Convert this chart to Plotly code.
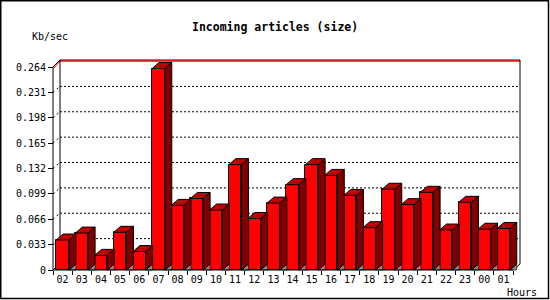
import plotly.graph_objects as go

# ---- data ----
hours = ["02", "03", "04", "05", "06", "07", "08", "09", "10", "11", "12", "13",
         "14", "15", "16", "17", "18", "19", "20", "21", "22", "23", "00", "01"]
kbps = [0.039, 0.048, 0.019, 0.049, 0.024, 0.262, 0.084, 0.093, 0.078, 0.137, 0.067, 0.087,
        0.111, 0.137, 0.123, 0.097, 0.055, 0.105, 0.085, 0.101, 0.052, 0.088, 0.053, 0.054]
ytick_vals = [0, 0.033, 0.066, 0.099, 0.132, 0.165, 0.198, 0.231, 0.264]
ytick_text = ["0", "0.033", "0.066", "0.099", "0.132", "0.165", "0.198", "0.231", "0.264"]
title_text = "Incoming articles (size)"
ylabel_text = "Kb/sec"
xlabel_text = "Hours"

# ---- geometry (pixel-based conversions) ----
W, H = 550, 300
L, R, T, B = 50, 27, 58, 27
PW, PH = W - L - R, H - T - B
SX = 1 / 19.1667          # x units per pixel
SY = 0.264 / 203          # y units per pixel
xr = [-0.5 - 3 * SX, -0.5 + (PW - 3) * SX]
yr = [-3 * SY, (PH - 3) * SY]
DX, DY = 7 * SX, 6 * SY   # 3D depth
HW = 6.35 * SX            # half bar width
YMAX = ytick_vals[-1]
n = len(hours)
idx = list(range(n))

def px_x(px):
    return (px - L) / PW

def px_y(py):
    return (H - B - py) / PH

fig = go.Figure()

# gray floor shadows, side faces, top faces
shx, shy, sdx, sdy, tpx, tpy = [], [], [], [], [], []
for i, v in zip(idx, kbps):
    a, b = i - HW, i + HW
    shx += [b, b + DX, b + DX, b, None]
    shy += [0, DY, 0, 0, None]
    sdx += [b, b + DX, b + DX, b, b, None]
    sdy += [0, DY, v + DY, v, 0, None]
    tpx += [a, a + DX, b + DX, b, a, None]
    tpy += [v, v + DY, v + DY, v, v, None]

fig.add_trace(go.Bar(x=idx, y=kbps, width=2 * HW, marker=dict(color="#FF0000", line=dict(color="black", width=1)),
                     hoverinfo="skip", showlegend=False))
fig.add_trace(go.Scatter(x=shx, y=shy, mode="lines", fill="toself", fillcolor="#8C8C8C",
                         line=dict(color="black", width=0.6), hoverinfo="skip", showlegend=False))
fig.add_trace(go.Scatter(x=sdx, y=sdy, mode="lines", fill="toself", fillcolor="#800000",
                         line=dict(color="black", width=1), hoverinfo="skip", showlegend=False))
fig.add_trace(go.Scatter(x=tpx, y=tpy, mode="lines", fill="toself", fillcolor="#C00000",
                         line=dict(color="black", width=1), hoverinfo="skip", showlegend=False))

shapes = []
bl, brt = -0.5 + DX, n - 0.5 + DX
# back wall gridlines (dotted)
for v in ytick_vals[1:-1]:
    shapes.append(dict(type="line", xref="x", yref="y", x0=bl, x1=brt, y0=v + DY, y1=v + DY,
                       line=dict(color="black", width=1, dash="2px,2px"), layer="below"))
    shapes.append(dict(type="line", xref="x", yref="y", x0=-0.5, x1=bl, y0=v, y1=v + DY,
                       line=dict(color="black", width=1, dash="2px,3px"), layer="below"))
# back wall top (black + red)
shapes.append(dict(type="line", xref="x", yref="y", x0=bl, x1=brt, y0=YMAX + DY + SY, y1=YMAX + DY + SY,
                   line=dict(color="black", width=1), layer="below"))
shapes.append(dict(type="line", xref="x", yref="y", x0=bl, x1=brt, y0=YMAX + DY, y1=YMAX + DY,
                   line=dict(color="#FF0000", width=1.5), layer="below"))
shapes.append(dict(type="line", xref="x", yref="y", x0=-0.5, x1=bl, y0=YMAX, y1=YMAX + DY + SY,
                   line=dict(color="black", width=1), layer="below"))
shapes.append(dict(type="line", xref="x", yref="y", x0=-0.5 + SX, x1=bl, y0=YMAX - SY, y1=YMAX + DY,
                   line=dict(color="#FF0000", width=1), layer="below"))
# back wall verticals
shapes.append(dict(type="line", xref="x", yref="y", x0=bl, x1=bl, y0=DY, y1=YMAX + DY + SY,
                   line=dict(color="black", width=1), layer="below"))
shapes.append(dict(type="line", xref="x", yref="y", x0=brt, x1=brt, y0=DY, y1=YMAX + DY + SY,
                   line=dict(color="black", width=1), layer="below"))
# floor diagonals
shapes.append(dict(type="line", xref="x", yref="y", x0=-0.5, x1=bl, y0=0, y1=DY,
                   line=dict(color="black", width=1), layer="below"))
shapes.append(dict(type="line", xref="x", yref="y", x0=n - 0.5, x1=brt, y0=0, y1=DY,
                   line=dict(color="black", width=1), layer="below"))
# front axes
shapes.append(dict(type="line", xref="x", yref="y", x0=-0.5, x1=-0.5, y0=0, y1=YMAX,
                   line=dict(color="black", width=1), layer="above"))
shapes.append(dict(type="line", xref="x", yref="y", x0=-0.5, x1=n - 0.5, y0=0, y1=0,
                   line=dict(color="black", width=1), layer="above"))
# outer frame
shapes.append(dict(type="rect", xref="paper", yref="paper",
                   x0=px_x(0.75), x1=px_x(548.5), y0=px_y(298.5), y1=px_y(0.75),
                   line=dict(color="black", width=1.5), fillcolor="rgba(0,0,0,0)"))

mono = "DejaVu Sans Mono, Liberation Mono, monospace"
annotations = [
    dict(text="<b>" + title_text + "</b>", xref="paper", yref="paper", x=px_x(275), y=px_y(27),
         xanchor="center", yanchor="middle", showarrow=False, font=dict(family=mono, size=11.5, color="black")),
    dict(text=ylabel_text, xref="paper", yref="paper", x=px_x(30), y=px_y(37),
         xanchor="left", yanchor="middle", showarrow=False, font=dict(family=mono, size=10, color="black")),
    dict(text=xlabel_text, xref="paper", yref="paper", x=px_x(505), y=px_y(292),
         xanchor="left", yanchor="middle", showarrow=False, font=dict(family=mono, size=10, color="black")),
]

fig.update_layout(
    width=W, height=H, autosize=False,
    margin=dict(l=L, r=R, t=T, b=B, pad=0),
    paper_bgcolor="white", plot_bgcolor="white",
    showlegend=False, bargap=0,
    shapes=shapes, annotations=annotations,
    xaxis=dict(range=xr, anchor="free", position=px_y(270), showgrid=False, zeroline=False, showline=False,
               tickmode="array", tickvals=idx, ticktext=hours, ticks="outside", ticklen=0,
               tickcolor="rgba(0,0,0,0)", tickfont=dict(family=mono, size=10, color="black"),
               minor=dict(tickmode="array", tickvals=[i - 0.5 for i in range(n + 1)], ticks="outside",
                          ticklen=4, tickcolor="black", tickwidth=1, showgrid=False),
               fixedrange=True),
    yaxis=dict(range=yr, anchor="free", position=px_x(53), showgrid=False, zeroline=False, showline=False,
               tickmode="array", tickvals=ytick_vals, ticktext=ytick_text, ticks="outside", ticklen=5,
               tickcolor="black", tickwidth=1, tickfont=dict(family=mono, size=10, color="black"),
               fixedrange=True),
)

fig.write_html("out.html")
